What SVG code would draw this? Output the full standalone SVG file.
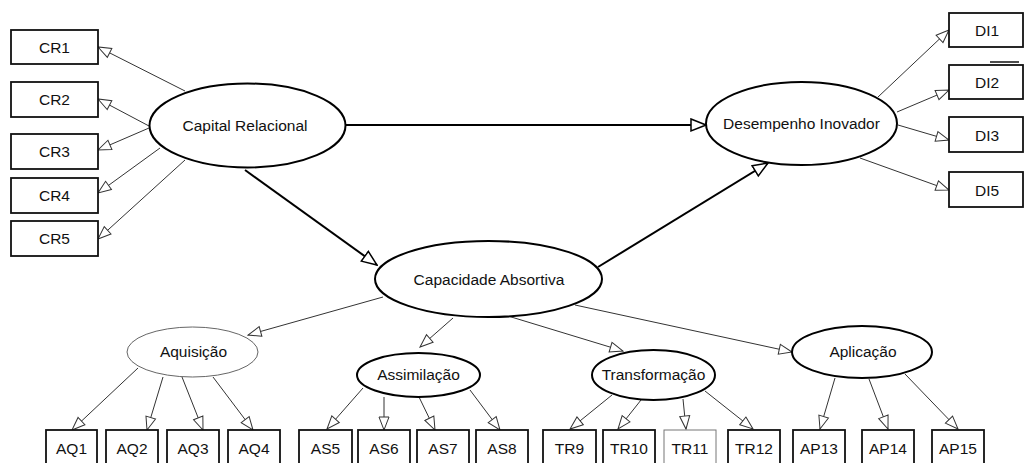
<svg xmlns="http://www.w3.org/2000/svg" width="1024" height="463" viewBox="0 0 1024 463">
<defs>
<marker id="thin" markerUnits="userSpaceOnUse" markerWidth="15" markerHeight="13" refX="14" refY="6" orient="auto">
<path d="M1,1 L14,6 L1,11 Z" fill="#fff" stroke="#333" stroke-width="1"/>
</marker>
<marker id="thick" markerUnits="userSpaceOnUse" markerWidth="17" markerHeight="15" refX="16" refY="7" orient="auto">
<path d="M1,1 L16,7 L1,13 Z" fill="#fff" stroke="#000" stroke-width="1.5"/>
</marker>
</defs>
<style>
text{font-family:"Liberation Sans",Arial,sans-serif;font-size:15.5px;fill:#111;text-anchor:middle}
.box{fill:#fff;stroke:#111;stroke-width:1.8}
.boxl{fill:#fff;stroke:#777;stroke-width:1}
.ell{fill:#fff;stroke:#000;stroke-width:2}
.elll{fill:#fff;stroke:#666;stroke-width:1}
.c{stroke:#333;stroke-width:1;fill:none;marker-end:url(#thin)}
.m{stroke:#000;stroke-width:2;fill:none;marker-end:url(#thick)}
</style>
<rect width="1024" height="463" fill="#fff"/>
<g id="connectors">
<line class="c" x1="185" y1="91" x2="98" y2="47"/>
<line class="c" x1="149" y1="126" x2="98" y2="99"/>
<line class="c" x1="149" y1="128" x2="98" y2="150"/>
<line class="c" x1="160" y1="148" x2="98" y2="193"/>
<line class="c" x1="185" y1="160" x2="98" y2="239"/>
<line class="m" x1="346" y1="125" x2="706" y2="125"/>
<line class="m" x1="245" y1="170" x2="377" y2="265"/>
<line class="m" x1="598" y1="267" x2="768" y2="163"/>
<line class="c" x1="878" y1="97" x2="949" y2="30"/>
<line class="c" x1="897" y1="112" x2="949" y2="90"/>
<line class="c" x1="898" y1="125" x2="949" y2="140"/>
<line class="c" x1="860" y1="158" x2="949" y2="190"/>
<line x1="990" y1="62" x2="1019" y2="62" stroke="#111" stroke-width="1.5"/>
<line class="c" x1="383" y1="297" x2="248" y2="335"/>
<line class="c" x1="453" y1="318" x2="420" y2="347"/>
<line class="c" x1="508" y1="316" x2="623" y2="351"/>
<line class="c" x1="575" y1="305" x2="792" y2="352"/>
<line class="c" x1="138" y1="368" x2="72" y2="430"/>
<line class="c" x1="163" y1="377" x2="147" y2="430"/>
<line class="c" x1="182" y1="377" x2="203" y2="430"/>
<line class="c" x1="213" y1="377" x2="253" y2="430"/>
<line class="c" x1="363" y1="388" x2="327" y2="429"/>
<line class="c" x1="384" y1="397" x2="384" y2="430"/>
<line class="c" x1="419" y1="397" x2="435" y2="430"/>
<line class="c" x1="470" y1="390" x2="500" y2="430"/>
<line class="c" x1="612" y1="395" x2="570" y2="429"/>
<line class="c" x1="641" y1="400" x2="618" y2="429"/>
<line class="c" x1="683" y1="399" x2="686" y2="429"/>
<line class="c" x1="705" y1="391" x2="753" y2="429"/>
<line class="c" x1="835" y1="378" x2="820" y2="429"/>
<line class="c" x1="869" y1="379" x2="888" y2="429"/>
<line class="c" x1="905" y1="374" x2="958" y2="429"/>
</g>
<g id="CR1"><rect class="box" x="11" y="30" width="87" height="34"/><text x="54.5" y="52.5">CR1</text></g>
<g id="CR2"><rect class="box" x="11" y="82" width="87" height="35"/><text x="54.5" y="105">CR2</text></g>
<g id="CR3"><rect class="box" x="11" y="134" width="87" height="35"/><text x="54.5" y="157">CR3</text></g>
<g id="CR4"><rect class="box" x="11" y="178" width="87" height="35"/><text x="54.5" y="201">CR4</text></g>
<g id="CR5"><rect class="box" x="11" y="221" width="87" height="35"/><text x="54.5" y="244">CR5</text></g>
<g id="capital-relacional"><ellipse class="ell" cx="247.5" cy="125.5" rx="98" ry="42"/><text x="245" y="131">Capital Relacional</text></g>
<g id="desempenho-inovador"><ellipse class="ell" cx="801.5" cy="123.5" rx="95.5" ry="41.5"/><text x="801.5" y="129">Desempenho Inovador</text></g>
<g id="DI1"><rect class="box" x="949" y="13" width="74" height="34"/><text x="987" y="35.5">DI1</text></g>
<g id="DI2"><rect class="box" x="949" y="65" width="74" height="34"/><text x="987" y="87.5">DI2</text></g>
<g id="DI3"><rect class="box" x="949" y="117" width="74" height="35"/><text x="987" y="140.5">DI3</text></g>
<g id="DI5"><rect class="box" x="949" y="172" width="74" height="35"/><text x="987" y="195.5">DI5</text></g>
<g id="capacidade-absortiva"><ellipse class="ell" cx="488.5" cy="279" rx="113.5" ry="38"/><text x="489" y="284.5">Capacidade Absortiva</text></g>
<g id="aquisicao"><ellipse class="elll" cx="192.5" cy="352" rx="65.5" ry="25"/><text x="193.5" y="357">Aquisição</text></g>
<g id="assimilacao"><ellipse class="ell" cx="418.5" cy="375" rx="61.5" ry="22"/><text x="418.5" y="380">Assimilação</text></g>
<g id="transformacao"><ellipse class="ell" cx="653.5" cy="375" rx="61.5" ry="25"/><text x="653.5" y="380">Transformação</text></g>
<g id="aplicacao"><ellipse class="ell" cx="862" cy="352" rx="70" ry="26"/><text x="863" y="357">Aplicação</text></g>
<g id="AQ1"><rect class="box" x="46" y="430" width="51" height="40"/><text x="71.5" y="453.5">AQ1</text></g>
<g id="AQ2"><rect class="box" x="106" y="430" width="52" height="40"/><text x="132" y="453.5">AQ2</text></g>
<g id="AQ3"><rect class="box" x="167" y="430" width="52" height="40"/><text x="193" y="453.5">AQ3</text></g>
<g id="AQ4"><rect class="box" x="228" y="430" width="52" height="40"/><text x="254" y="453.5">AQ4</text></g>
<g id="AS5"><rect class="box" x="299" y="430" width="53" height="40"/><text x="325.5" y="453.5">AS5</text></g>
<g id="AS6"><rect class="box" x="358" y="430" width="52" height="40"/><text x="384" y="453.5">AS6</text></g>
<g id="AS7"><rect class="box" x="417" y="430" width="52" height="40"/><text x="443" y="453.5">AS7</text></g>
<g id="AS8"><rect class="box" x="476" y="430" width="52" height="40"/><text x="502" y="453.5">AS8</text></g>
<g id="TR9"><rect class="box" x="543" y="430" width="53" height="40"/><text x="569.5" y="453.5">TR9</text></g>
<g id="TR10"><rect class="box" x="603" y="430" width="52" height="40"/><text x="629" y="453.5">TR10</text></g>
<g id="TR11"><rect class="boxl" x="664" y="430" width="52" height="40"/><text x="690" y="453.5">TR11</text></g>
<g id="TR12"><rect class="box" x="728" y="430" width="52" height="40"/><text x="754" y="453.5">TR12</text></g>
<g id="AP13"><rect class="box" x="793" y="430" width="52" height="40"/><text x="819" y="453.5">AP13</text></g>
<g id="AP14"><rect class="box" x="862" y="430" width="52" height="40"/><text x="888" y="453.5">AP14</text></g>
<g id="AP15"><rect class="box" x="932" y="430" width="52" height="40"/><text x="958" y="453.5">AP15</text></g>
</svg>
